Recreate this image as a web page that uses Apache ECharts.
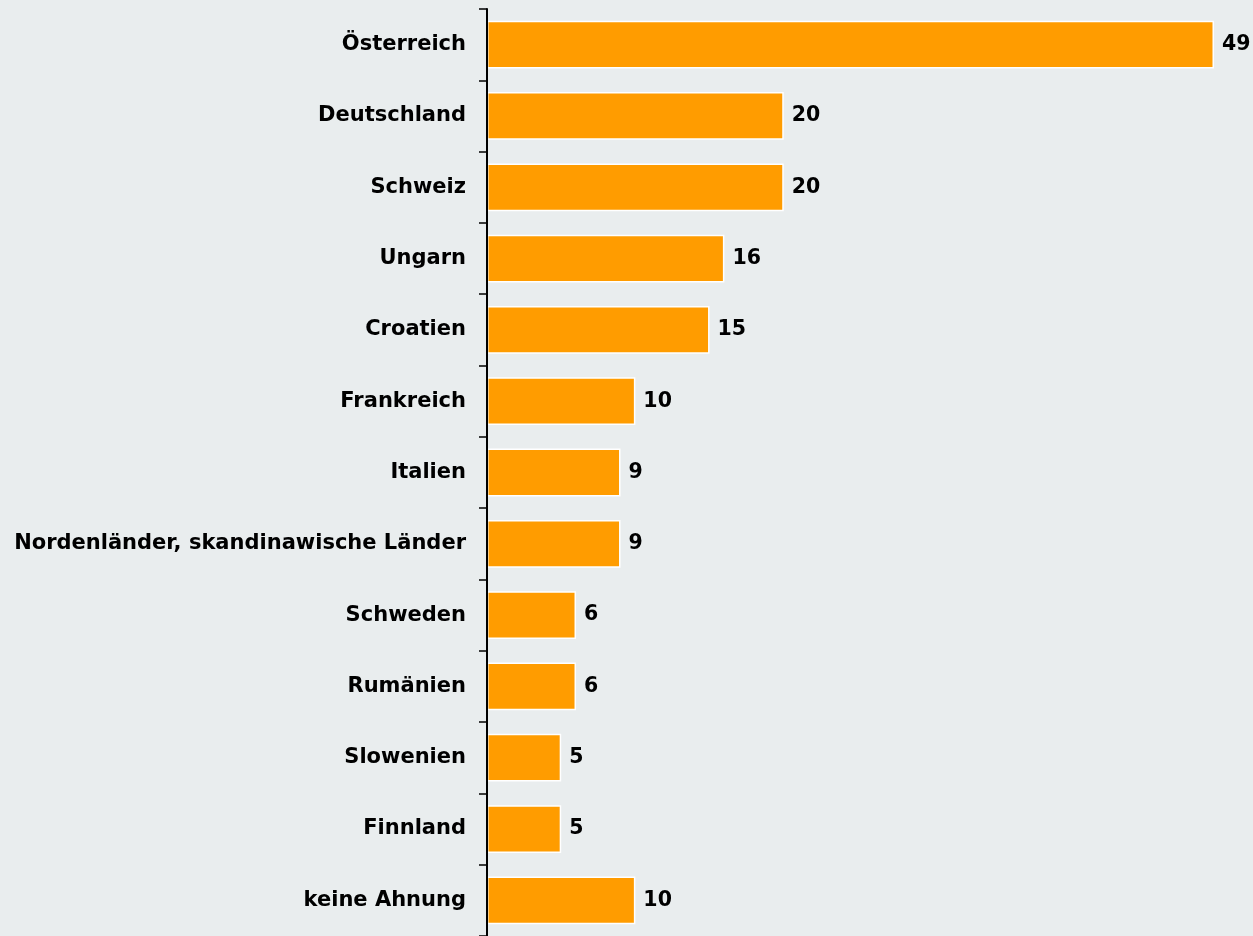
<!DOCTYPE html>
<html><head><meta charset="utf-8">
<script src="https://cdn.jsdelivr.net/npm/echarts@6/dist/echarts.min.js"></script>
<style>html,body{margin:0;padding:0;background:#e9edee;}#c{width:1253px;height:936px;}</style>
</head><body><div id="c"></div>
<script>
const categories = ["Österreich","Deutschland","Schweiz","Ungarn","Croatien","Frankreich","Italien","Nordenländer, skandinawische Länder","Schweden","Rumänien","Slowenien","Finnland","keine Ahnung"];
const values = [49,20,20,16,15,10,9,9,6,6,5,5,10];
const chart = echarts.init(document.getElementById('c'));
chart.setOption({
  backgroundColor:'#e9edee',
  animation:false,
  grid:{left:487,top:9,width:727,height:929},
  xAxis:{type:'value',min:0,max:49,show:false},
  yAxis:{type:'category',data:categories,inverse:true,z:5,
    axisLine:{show:true,lineStyle:{color:'#000',width:2}},
    axisTick:{show:true,length:8,lineStyle:{color:'#000',width:1.5}},
    axisLabel:{margin:21,color:'#000',fontFamily:'DejaVu Sans',fontWeight:900,fontSize:21}
  },
  series:[{type:'bar',data:values,barWidth:'67%',
    itemStyle:{color:'#ff9c00',borderColor:'#fff',borderWidth:1.5},
    label:{show:true,position:'right',distance:8,color:'#000',fontFamily:'DejaVu Sans',fontWeight:900,fontSize:20.5}
  }]
});
</script></body></html>
